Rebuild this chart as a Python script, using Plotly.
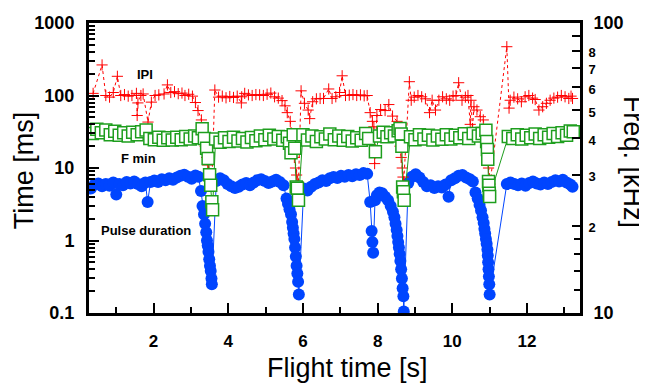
import plotly.graph_objects as go

# ---------------- data ----------------
# Pulse duration [ms] (left axis)
t_dur = [0.32, 0.42, 0.52, 0.62, 0.72, 0.82, 0.92, 1.00, 1.08, 1.18, 1.28, 1.38, 1.48, 1.58, 1.68, 1.78, 1.84, 1.92,
         2.02, 2.12, 2.22, 2.32, 2.42, 2.52, 2.62, 2.72, 2.82, 2.92, 3.02, 3.12, 3.20,
         3.27, 3.31, 3.35, 3.38, 3.41, 3.43, 3.45, 3.47, 3.49, 3.51, 3.53, 3.55, 3.56,
         3.68, 3.78, 3.88, 3.98, 4.08, 4.18, 4.28, 4.38, 4.48, 4.58, 4.68, 4.78, 4.88, 4.98, 5.08, 5.18, 5.28, 5.38, 5.48,
         5.56, 5.60, 5.64, 5.68, 5.71, 5.73, 5.75, 5.77, 5.79, 5.81, 5.83, 5.85, 5.87, 5.89,
         6.02, 6.12, 6.22, 6.32, 6.42, 6.52, 6.62, 6.72, 6.82, 6.92, 7.02, 7.12, 7.22, 7.32, 7.42, 7.52, 7.62, 7.72,
         7.80, 7.84, 7.86, 7.88, 7.93, 7.98, 8.05, 8.12, 8.20, 8.28, 8.35, 8.41, 8.45, 8.48, 8.51, 8.53, 8.55, 8.57,
         8.59, 8.61, 8.63, 8.65, 8.67, 8.69, 8.70,
         8.82, 8.92, 9.02, 9.12, 9.22, 9.32, 9.42, 9.52, 9.62, 9.72, 9.82, 9.90, 9.97, 10.07, 10.17, 10.27, 10.37,
         10.47, 10.55,
         10.62, 10.68, 10.73, 10.77, 10.81, 10.84, 10.86, 10.88, 10.90, 10.92, 10.94, 10.95, 10.96, 10.97, 10.98,
         10.99, 11.00,
         11.46, 11.56, 11.66, 11.76, 11.86, 11.96, 12.06, 12.16, 12.26, 12.36, 12.46, 12.56, 12.66, 12.76, 12.86,
         12.96, 13.06, 13.16, 13.22]
dur = [5.2, 5.9, 6.1, 5.6, 6.0, 5.7, 6.3, 4.3, 6.0, 5.8, 6.4, 6.1, 6.5, 6.0, 5.6, 6.3, 3.4, 6.4,
       6.7, 6.4, 7.0, 6.8, 7.2, 6.9, 7.4, 7.8, 8.1, 7.6, 7.1, 7.9, 7.6,
       4.8, 3.0, 2.3, 1.7, 1.3, 1.0, 0.85, 0.7, 0.55, 0.45, 0.38, 0.30, 0.25,
       6.6, 7.2, 6.8, 6.0, 5.6, 5.3, 5.5, 5.9, 6.2, 5.8, 6.3, 6.8, 7.0, 6.6, 6.2, 6.5, 6.9, 6.4, 5.8,
       3.8, 3.2, 2.7, 2.3, 1.8, 1.5, 1.25, 1.05, 0.8, 0.6, 0.45, 0.35, 0.27, 0.18,
       5.2, 4.9, 5.5, 6.0, 6.3, 6.8, 6.6, 7.2, 7.5, 7.3, 7.8, 7.6, 8.0, 7.7, 8.2, 8.0, 8.5, 8.3,
       3.4, 1.35, 0.95, 0.68, 3.6, 4.2, 4.6, 4.5, 4.0, 3.6, 3.0, 2.5, 2.1, 1.7, 1.4, 1.15, 0.95, 0.8,
       0.65, 0.52, 0.4, 0.3, 0.22, 0.17, 0.105,
       6.2, 7.6, 8.2, 7.4, 6.4, 5.6, 5.8, 5.3, 5.6, 5.4, 5.9, 4.0, 6.8, 7.2, 7.8, 8.0, 7.4,
       7.0, 6.5,
       4.6, 3.8, 3.1, 2.6, 2.1, 1.75, 1.45, 1.25, 1.05, 0.9, 0.75, 0.62, 0.5, 0.4, 0.32,
       0.25, 0.18,
       6.0, 6.3, 6.0, 5.8, 6.1, 5.7, 6.2, 6.5, 6.1, 5.9, 6.3, 6.0, 6.4, 6.8, 6.5,
       6.9, 6.3, 5.9, 5.5]

# F min [kHz] (right axis)
t_fmin = [0.36, 0.48, 0.60, 0.72, 0.84, 0.96, 1.08, 1.20, 1.32, 1.44, 1.56, 1.68, 1.80, 1.90, 2.02, 2.14, 2.26,
          2.38, 2.50, 2.62, 2.74, 2.86, 2.98, 3.10, 3.20,
          3.30, 3.36, 3.42, 3.46, 3.50, 3.53, 3.56, 3.58,
          3.66, 3.78, 3.90, 4.02, 4.14, 4.26, 4.38, 4.50, 4.62, 4.74, 4.86, 4.98, 5.10, 5.22, 5.34, 5.46,
          5.58, 5.64, 5.68, 5.74, 5.78, 5.82, 5.85, 5.88,
          6.00, 6.12, 6.24, 6.36, 6.48, 6.60, 6.72, 6.84, 6.96, 7.08, 7.20, 7.32, 7.44, 7.56, 7.68, 7.76, 7.94,
          8.05, 8.15, 8.25, 8.35, 8.45, 8.55, 8.60, 8.63, 8.65, 8.67, 8.69, 8.71,
          8.88, 9.00, 9.12, 9.24, 9.36, 9.48, 9.60, 9.72, 9.84, 9.96, 10.08, 10.20, 10.32, 10.44, 10.56,
          10.70, 10.80, 10.90, 10.92, 10.94, 10.95, 10.97, 10.98, 10.99, 11.00,
          11.50, 11.62, 11.74, 11.86, 11.98, 12.10, 12.22, 12.34, 12.46, 12.58, 12.70, 12.82, 12.94, 13.06,
          13.16, 13.24]
fmin = [41.6, 43.0, 41.8, 42.8, 41.2, 42.3, 41.0, 41.8, 40.8, 42.0, 41.2, 42.2, 42.8, 40.0, 39.6, 40.4, 39.4,
        40.2, 39.5, 40.4, 39.6, 40.6, 39.8, 40.8, 40.2,
        43.2, 40.0, 37.0, 34.1, 30.0, 27.6, 24.2, 22.7,
        39.8, 38.8, 40.2, 39.0, 40.4, 39.2, 40.0, 38.9, 40.3, 39.3, 40.8, 39.6, 41.0, 39.8, 40.6, 39.4,
        40.5, 38.5, 35.7, 41.2, 37.0, 27.2, 26.9, 24.5,
        41.2, 39.5, 40.8, 39.0, 40.5, 39.8, 41.4, 39.6, 40.8, 39.4, 40.6, 39.2, 40.2, 39.4, 41.6, 40.0, 36.0,
        40.8, 42.0, 40.5, 41.8, 40.8, 42.5, 43.3, 41.4, 37.6, 27.2, 26.2, 24.5,
        40.5, 39.6, 41.2, 39.8, 41.0, 39.5, 40.8, 39.7, 41.2, 39.8, 41.0, 40.2, 41.5, 40.0, 41.6,
        40.8, 41.6, 42.7, 39.0, 36.6, 33.9, 28.4, 27.6, 25.9, 25.2,
        40.6, 40.0, 41.2, 39.8, 41.0, 40.2, 41.4, 40.0, 41.2, 40.4, 41.6, 40.6, 41.8, 41.0,
        42.4, 42.2]

# IPI [ms] (left axis)
t_ipi = [0.38, 0.62, 0.72, 0.82, 0.92, 1.03, 1.12, 1.22, 1.32, 1.42, 1.54, 1.56, 1.58, 1.66, 1.72, 1.85, 1.94,
         2.04, 2.14, 2.28, 2.37, 2.46, 2.56, 2.66, 2.76, 2.84, 2.94, 3.04, 3.12, 3.19, 3.28,
         3.33, 3.38, 3.42, 3.45, 3.48, 3.50, 3.52, 3.54, 3.56,
         3.64, 3.74, 3.84, 3.94, 4.04, 4.14, 4.24, 4.35, 4.36, 4.44, 4.54, 4.64, 4.74, 4.84, 4.94, 5.04, 5.14,
         5.24, 5.34, 5.44, 5.52, 5.58, 5.66,
         5.70, 5.74, 5.77, 5.80, 5.83, 5.86, 5.88,
         5.95, 6.04, 6.14, 6.18, 6.26, 6.36, 6.46, 6.55, 6.69, 6.78, 6.88, 6.98, 7.05, 7.14, 7.24, 7.34, 7.44,
         7.54, 7.64, 7.72, 7.80, 7.86, 7.90, 7.92, 7.98, 8.08, 8.20, 8.30, 8.40, 8.52,
         8.56, 8.60, 8.63, 8.66, 8.68, 8.70,
         8.85, 8.90, 8.98, 9.08, 9.18, 9.28, 9.39, 9.46, 9.55, 9.64, 9.74, 9.84, 9.93, 10.02, 10.10, 10.17,
         10.26, 10.35, 10.42, 10.48, 10.50, 10.54, 10.58, 10.66, 10.75, 10.83, 10.90,
         10.93, 10.95, 10.97, 10.99, 11.01,
         11.46, 11.52, 11.55, 11.65, 11.75, 11.85, 11.95, 12.05, 12.15, 12.22, 12.32, 12.42, 12.52, 12.62,
         12.72, 12.82, 12.92, 13.02, 13.12, 13.18, 13.22]
ipi = [107, 264, 100, 95, 110, 184, 100, 103, 98, 100, 107, 53, 79, 100, 105, 43, 81,
       100, 102, 105, 140, 110, 113, 106, 108, 100, 104, 98, 80, 62, 46,
       30, 20, 14, 11, 9, 8, 7, 6.5, 6,
       119, 95, 98, 93, 97, 94, 98, 79, 96, 107, 102, 100, 103, 102, 100, 104, 108,
       96, 92, 85, 72, 58, 44,
       30, 20, 14, 10, 8, 6.5, 6,
       116, 78, 63, 48, 82, 90, 91, 91, 123, 91, 96, 110, 187, 100, 101, 103, 100,
       102, 99, 100, 58, 44, 37, 11.5, 53, 64, 62, 75, 52, 44,
       30, 20, 14, 10, 7.5, 6.5,
       155, 86, 95, 100, 96, 90, 58, 86, 63, 86, 96, 90, 86, 98, 100, 150,
       86, 95, 100, 40, 86, 35, 70, 63, 51, 46, 30,
       20, 14, 10, 7, 6,
       471, 67, 86, 95, 90, 82, 96, 100, 92, 88, 63, 70, 78, 86,
       92, 95, 100, 96, 91, 98, 91]

x_tick_vals = [2, 4, 6, 8, 10, 12]
x_minor_vals = [1, 3, 5, 7, 9, 11, 13]
y_tick_vals = [0.1, 1, 10, 100, 1000]
y_tick_text = ["0.1", "1", "10", "100", "1000"]
y2_tick_vals = [10, 20, 30, 40, 50, 60, 70, 80, 90, 100]
y2_tick_text = ["10", "2", "3", "4", "5", "6", "7", "8", "", "100"]

# ---------------- styling ----------------
FONT = "Arial, 'Liberation Sans', sans-serif"
BLUE = "#0045ff"
GREEN = "#1e9e1e"
RED = "#ff0000"

fig = go.Figure()

fig.add_trace(go.Scatter(
    x=t_dur, y=dur, mode="lines+markers", name="Pulse duration",
    line=dict(color=BLUE, width=1),
    marker=dict(symbol="circle", size=12, color=BLUE, line=dict(width=0)),
))
fig.add_trace(go.Scatter(
    x=t_ipi, y=ipi, mode="lines+markers", name="IPI",
    line=dict(color=RED, width=1, dash="dot"),
    marker=dict(symbol="cross-thin", size=8, color=RED, line=dict(color=RED, width=1)),
))
fig.add_trace(go.Scatter(
    x=t_fmin, y=fmin, mode="lines+markers", name="F min", yaxis="y2",
    line=dict(color=GREEN, width=1),
    marker=dict(symbol="square", size=12, color="white", line=dict(color=GREEN, width=1.5)),
))

minor_left = [m * 10 ** d for d in range(-1, 3) for m in range(2, 10)]
minor_right = [12, 14, 16, 18]

def big(s):
    return "<b>" + s + "</b>"

y2_text = []
for v, s in zip(y2_tick_vals, y2_tick_text):
    if v in (10, 100):
        y2_text.append("<b>\u00a0" + s + "</b>")
    elif s:
        y2_text.append('<b><span style="font-size:13px">' + s + "</span></b>")
    else:
        y2_text.append("")

def ann(text, x, y, size, bold=False, angle=0):
    return dict(text=("<b>" + text + "</b>") if bold else text, x=x, y=y,
                xref="paper", yref="paper", xanchor="center", yanchor="middle",
                showarrow=False, textangle=angle, font=dict(size=size, family=FONT))

# the page body has an 8px default margin, so the figure is 8px smaller
fig.update_layout(
    width=639, height=375,
    margin=dict(l=81, r=67, t=15, b=70, autoexpand=False),
    paper_bgcolor="white", plot_bgcolor="white",
    showlegend=False,
    font=dict(family=FONT, color="black"),
    xaxis=dict(
        range=[0.27, 13.42], showgrid=False, zeroline=False, automargin=False,
        showline=True, linecolor="black", linewidth=3, mirror=True,
        ticks="inside", ticklen=10, tickwidth=2, tickcolor="black",
        tickvals=x_tick_vals, ticktext=[big(str(v)) for v in x_tick_vals],
        tickfont=dict(size=17, family=FONT), ticklabelstandoff=11,
        minor=dict(ticks="inside", ticklen=6, tickwidth=2, tickcolor="black",
                   tickmode="array", tickvals=x_minor_vals, showgrid=False),
    ),
    yaxis=dict(
        type="log", range=[-1, 3], showgrid=False, zeroline=False, automargin=False,
        showline=True, linecolor="black", linewidth=3,
        ticks="inside", ticklen=10, tickwidth=2, tickcolor="black",
        tickvals=y_tick_vals, ticktext=[big(s) for s in y_tick_text],
        tickfont=dict(size=18, family=FONT), ticklabelstandoff=8,
        minor=dict(ticks="inside", ticklen=6, tickwidth=2, tickcolor="black",
                   tickmode="array", tickvals=minor_left, showgrid=False),
    ),
    yaxis2=dict(
        type="log", range=[1, 2], overlaying="y", side="right", anchor="x",
        showgrid=False, zeroline=False, automargin=False,
        showline=True, linecolor="black", linewidth=3,
        ticks="inside", ticklen=8, tickwidth=2, tickcolor="black",
        tickvals=y2_tick_vals, ticktext=y2_text,
        tickfont=dict(size=18, family=FONT), ticklabelstandoff=2,
        minor=dict(ticks="inside", ticklen=6, tickwidth=2, tickcolor="black",
                   tickmode="array", tickvals=minor_right, showgrid=False),
    ),
    annotations=[
        ann("IPI", 0.115, 0.821, 13, bold=True),
        ann("F min", 0.0998, 0.534, 13, bold=True),
        ann("Pulse duration", 0.117, 0.286, 13, bold=True),
        ann("Time [ms]", -0.132, 0.493, 27, angle=-90),
        ann("Freq. [kHz]", 1.108, 0.521, 27, angle=90),
        ann("Flight time [s]", 0.527, -0.19, 27),
    ],
)

fig.write_html("out.html")
